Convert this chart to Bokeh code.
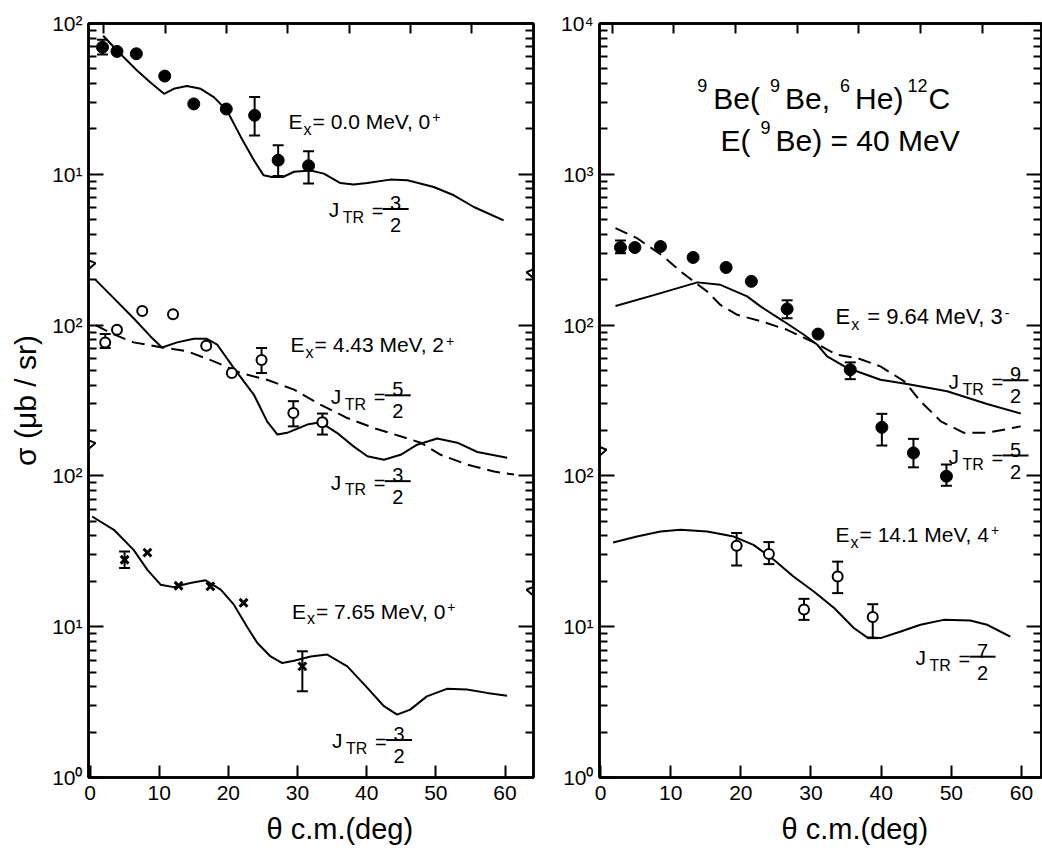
import math
from bokeh.plotting import figure
from bokeh.layouts import row
from bokeh.models import (Range1d, FixedTicker, CustomJSTickFormatter, LogAxis, LinearAxis,
                          Label, Whisker, TeeHead, ColumnDataSource, PolyAnnotation, Title)
from bokeh.embed import file_html
from bokeh.resources import INLINE

FONT = "Liberation Sans"

# Left panel, Ex = 0.0 MeV, 0+  (upper segment)
g0_theta = [1.8, 3.9, 6.7, 10.8, 15.0, 19.7, 23.8, 27.2, 31.6]
g0_sigma = [69.6, 65.3, 63.0, 44.8, 29.3, 27.1, 24.6, 12.4, 11.4]
g0_err_theta = [1.8, 23.8, 27.2, 31.6]
g0_err_lo = [62.4, 18.1, 9.75, 8.7]
g0_err_hi = [78.0, 32.5, 15.6, 14.2]
g0_fit_theta = [1.9, 3.9, 6.8, 8.7, 10.7, 12.1, 14.0, 16.0, 17.9, 19.8, 21.8, 23.7, 25.1, 26.3,
                27.9, 29.5, 31.9, 33.8, 36.2, 38.1, 40.1, 43.4, 45.9, 49.7, 52.6, 55.5, 59.8]
g0_fit_sigma = [83, 66.2, 48.8, 40.8, 34.2, 36.9, 38.5, 36.9, 32.5, 26.5, 17.7, 12.4, 9.84, 9.6,
                9.6, 10.4, 10.6, 10.1, 8.75, 8.55, 8.75, 9.22, 9.12, 8.24, 7.26, 6.07, 4.95]

# Left panel, Ex = 4.43 MeV, 2+  (middle segment)
g443_theta = [2.2, 3.9, 7.55, 12.0, 16.8, 20.5, 24.8, 29.4, 33.6]
g443_sigma = [76.8, 93.0, 124, 118, 73.0, 48.1, 58.7, 26.1, 22.7]
g443_err_theta = [2.2, 24.8, 29.4, 33.6]
g443_err_lo = [70.5, 48.1, 21.3, 18.8]
g443_err_hi = [87.2, 70.5, 31.3, 25.9]
g443_j32_theta = [0.8, 3.0, 6.3, 8.75, 10.4, 12.6, 15.0, 16.9, 18.4, 20.8, 23.7, 25.6, 27.1,
                  28.5, 31.4, 33.3, 35.7, 38.1, 40.1, 42.5, 44.9, 47.3, 50.2, 53.1, 56.0, 60.3]
g443_j32_sigma = [199.5, 158, 111, 84.1, 71.1, 76.8, 81.1, 81.1, 74.1, 51.9, 34.5, 23.0, 18.8,
                  19.3, 21.9, 22.7, 19.3, 15.7, 13.5, 12.8, 13.8, 16.1, 17.7, 16.6, 14.4, 13.2]
g443_j52_theta = [0.8, 3.0, 6.3, 10.2, 14.1, 17.9, 21.8, 25.6, 29.5, 33.3, 37.2, 41.0, 44.9,
                  47.8, 50.7, 54.5, 58.4, 61.3]
g443_j52_sigma = [100, 88.5, 76.8, 71.4, 67.0, 57.5, 48.1, 43.4, 37.3, 29.7, 24.2, 20.8, 18.3,
                  16.6, 13.8, 11.9, 10.7, 10.2]

# Left panel, Ex = 7.65 MeV, 0+  (lower segment)
g765_theta = [5.0, 8.3, 12.8, 17.4, 22.2, 30.7]
g765_sigma = [27.8, 31.0, 18.7, 18.5, 14.4, 5.46]
g765_err_theta = [5.0, 30.7]
g765_err_lo = [24.5, 3.73]
g765_err_hi = [31.5, 6.87]
g765_fit_theta = [0.3, 3.45, 6.3, 8.3, 10.2, 12.1, 14.5, 16.7, 18.9, 20.8, 22.7, 24.2, 26.1, 27.8,
                  29.5, 31.9, 34.3, 37.2, 40.1, 42.5, 44.4, 46.3, 48.7, 51.6, 54.5, 57.4, 60.3]
g765_fit_sigma = [53.8, 43.9, 32.3, 23.8, 19.0, 18.3, 19.5, 20.3, 17.6, 14.0, 10.0, 7.80, 6.35,
                  5.74, 5.95, 6.35, 6.53, 5.46, 3.93, 2.97, 2.61, 2.82, 3.45, 3.87, 3.83, 3.64, 3.49]

# Right panel, Ex = 9.64 MeV, 3-  (upper segment)
r964_theta = [2.85, 4.9, 8.55, 13.2, 17.9, 21.5, 26.6, 31.0, 35.6, 40.1, 44.6, 49.3]
r964_sigma = [327, 327, 332, 281, 241, 195, 128, 87.2, 50.6, 21.0, 14.2, 9.95]
r964_err_theta = [2.85, 26.6, 35.6, 40.1, 44.6, 49.3]
r964_err_lo = [300, 111, 43.8, 15.9, 11.4, 8.6]
r964_err_hi = [364, 146, 56.6, 25.8, 17.6, 11.9]
r964_j92_theta = [2.14, 7.6, 13.8, 17.1, 20.9, 22.8, 26.1, 29.0, 30.9, 32.3, 35.2, 39.9, 43.7,
                  49.4, 55.1, 59.9]
r964_j92_sigma = [134, 158, 192, 185, 155, 133, 106, 86.3, 74.1, 62.1, 51.9, 43.4, 40.7, 36.4,
                  30.0, 25.9]
r964_j52_theta = [2.14, 5.2, 9.0, 11.4, 15.2, 17.1, 19.5, 22.9, 26.6, 30.4, 33.7, 36.6, 39.9,
                  43.3, 45.6, 48.5, 51.8, 55.1, 59.9]
r964_j52_sigma = [439, 377, 285, 227, 167, 136, 117, 106, 93.1, 76.8, 63.6, 60.4, 53.2, 42.4,
                  31.3, 23.0, 19.3, 19.3, 21.3]

# Right panel, Ex = 14.1 MeV, 4+  (lower segment)
r141_theta = [19.4, 24.0, 29.0, 33.8, 38.8]
r141_sigma = [34.4, 30.4, 13.0, 21.5, 11.6]
r141_err_lo = [25.5, 26.0, 11.1, 16.7, 8.4]
r141_err_hi = [41.8, 36.4, 15.3, 27.0, 14.1]
r141_fit_theta = [1.8, 5.2, 8.55, 11.4, 15.2, 19.0, 21.8, 24.7, 27.5, 30.4, 33.3, 36.1, 38.0,
                  39.9, 42.8, 45.6, 48.9, 52.7, 55.1, 58.4]
r141_fit_sigma = [36.2, 39.6, 42.8, 43.9, 42.8, 39.6, 34.9, 27.8, 21.5, 17.1, 13.3, 9.8, 8.5,
                  8.4, 9.3, 10.3, 11.1, 11.0, 10.3, 8.6]

# offsets of the stacked log segments (display value = real value * factor)
LEFT_UPPER, LEFT_MID, LEFT_LOW = 1000.0, 10.0, 1.0
RIGHT_UPPER, RIGHT_LOW = 10.0, 1.0

left_tick_labels = ["10\u2070", "10\u00b9", "10\u00b2", "10\u00b2", "10\u00b9", "10\u00b2"]
right_tick_labels = ["10\u2070", "10\u00b9", "10\u00b2", "10\u00b2", "10\u00b3", "10\u2074"]
x_ticks = [0, 10, 20, 30, 40, 50, 60]

MAJOR = [10.0 ** k for k in range(6)]
MINOR = [m * 10.0 ** k for k in range(5) for m in range(2, 10)]

# ---------------- layout ----------------
W1, W2, H = 545, 497, 852
TOP, BOTTOM = 23, 74
YMIN, YMAX = 1.0, 1e5
DESC = 0.21  # descent of the font, in em (labels are anchored at the bottom of their box)

ADV = {' ': .278, '.': .278, ',': .278, '=': .584, '+': .584, '-': .333, '(': .333, ')': .333,
       'E': .667, 'M': .833, 'e': .556, 'V': .667, 'x': .5, 'J': .5, 'T': .611, 'R': .722,
       'B': .667, 'H': .722, 'C': .722}


def tw(s, size):
    return sum(ADV.get(c, .556) for c in s) * size


class Geo:
    pass


def style_axis(ax, tick_in, minor_in, label_size, standoff, show_labels=True):
    ax.axis_line_color = "black"
    ax.axis_line_width = 2.5
    ax.major_tick_line_color = "black"
    ax.major_tick_line_width = 2
    ax.minor_tick_line_color = "black"
    ax.minor_tick_line_width = 2
    ax.major_tick_in = tick_in
    ax.major_tick_out = 0
    ax.minor_tick_in = minor_in
    ax.minor_tick_out = 0
    ax.major_label_text_font = FONT
    ax.major_label_text_font_size = label_size
    ax.major_label_text_color = "black" if show_labels else None
    ax.major_label_standoff = standoff


def make_panel(width, bl, br, x_start, x_end, top_start, top_end, labels, xlab_offset):
    p = figure(width=width, height=H, x_range=Range1d(x_start, x_end),
               y_range=Range1d(YMIN, YMAX), y_axis_type="log",
               output_backend="svg", toolbar_location=None,
               min_border_left=bl, min_border_right=br,
               min_border_top=TOP, min_border_bottom=BOTTOM,
               background_fill_color="white", border_fill_color="white",
               outline_line_color="black", outline_line_width=2.5)
    p.grid.visible = False
    p.extra_x_ranges = {"top": Range1d(top_start, top_end)}

    fmt = CustomJSTickFormatter(args=dict(labels=labels),
                                code="const i = Math.round(Math.log10(tick)); return labels[i] ?? '';")
    yl = p.left[0]
    yl.ticker = FixedTicker(ticks=MAJOR, minor_ticks=MINOR)
    yl.formatter = fmt
    style_axis(yl, 15, 8, "21px", 6)

    blank = CustomJSTickFormatter(code="return '';")
    yr = LogAxis(ticker=FixedTicker(ticks=MAJOR, minor_ticks=MINOR), formatter=blank)
    style_axis(yr, 15, 8, "21px", 0, show_labels=False)
    p.add_layout(yr, "right")

    xb = p.below[0]
    xb.ticker = FixedTicker(ticks=x_ticks)
    style_axis(xb, 12, 0, "21px", 8)

    xt = LinearAxis(x_range_name="top", ticker=FixedTicker(ticks=x_ticks), formatter=blank)
    style_axis(xt, 10, 0, "21px", 0, show_labels=False)
    p.add_layout(xt, "above")

    # x-axis title, placed off-centre as in the original figure
    p.add_layout(Title(text="\u03b8 c.m.(deg)", align="left", offset=xlab_offset,
                       text_font=FONT, text_font_size="29px", text_font_style="normal",
                       text_color="black", standoff=16), "below")

    g = Geo()
    g.x_start, g.x_end = x_start, x_end
    g.ppx = (width - bl - br) / (x_end - x_start)
    g.ppd = (H - TOP - BOTTOM) / math.log10(YMAX / YMIN)
    return p, g


def txt(p, x, y, s, size, dx=0.0, dy=0.0, align="left", units="data"):
    # dy is the offset of the text baseline (pixels, upward)
    p.add_layout(Label(x=x, y=y, x_units=units, y_units=units, x_offset=dx,
                       y_offset=dy - DESC * size,
                       text=s, text_font=FONT, text_font_size=f"{size}px",
                       text_align=align, text_baseline="bottom", text_color="black"))


def rich(p, x, y, parts):
    dx = 0.0
    for part in parts:
        if isinstance(part, (int, float)):
            dx += part
            continue
        s, size, dy = part
        txt(p, x, y, s, size, dx=dx, dy=dy)
        dx += tw(s, size)


def ex_label(p, x, y, main, sup, F=21, gap=1):
    rich(p, x, y, [("E", F, 0), 1, ("x", 16, -6), gap, (main, F, 0), 0, (sup, 14, 9)])


def jtr_label(p, g, x, y, num, den):
    txt(p, x, y, "J", 21)
    txt(p, x, y, "TR", 16, dx=14, dy=-6)
    txt(p, x, y, "=", 20, dx=43, dy=-1)
    yb = y * 10 ** (8 / g.ppd)
    p.segment(x0=[x + 54 / g.ppx], y0=[yb], x1=[x + 80 / g.ppx], y1=[yb],
              line_color="black", line_width=2)
    txt(p, x, y, num, 20, dx=67, dy=11, align="center")
    txt(p, x, y, den, 20, dx=67, dy=-11, align="center")


def axis_break(p, g, side, yv):
    # zigzag on the axis line (outward part is clipped by the frame)
    shape = [(0, -9), (5, -5), (-7, 0), (0, 6)]
    pts = shape + shape[-2:0:-1]
    xa = g.x_start if side == "left" else g.x_end
    sgn = -1 if side == "left" else 1
    xs = [xa + sgn * dx / g.ppx for dx, dy in pts]
    ys = [yv * 10 ** (-dy / g.ppd) for dx, dy in pts]
    p.add_layout(PolyAnnotation(xs=xs, ys=ys, fill_alpha=0, line_color="black",
                                line_alpha=1, line_width=2))


def errors(p, th, lo, hi, factor):
    src = ColumnDataSource(dict(x=th, lo=[v * factor for v in lo], hi=[v * factor for v in hi]))
    p.add_layout(Whisker(source=src, base="x", lower="lo", upper="hi", dimension="height",
                         line_color="black", line_width=2,
                         lower_head=TeeHead(size=11, line_width=2, line_color="black"),
                         upper_head=TeeHead(size=11, line_width=2, line_color="black")))


def curve(p, th, sg, factor, dash="solid"):
    p.line(th, [v * factor for v in sg], line_color="black", line_width=2, line_dash=dash)


def points(p, th, sg, factor, kind):
    ys = [v * factor for v in sg]
    if kind == "filled":
        p.scatter(th, ys, marker="circle", size=12, fill_color="black", line_color="black")
    elif kind == "open":
        p.scatter(th, ys, marker="circle", size=10, fill_color="white", line_color="black",
                  line_width=2)
    else:
        p.scatter(th, ys, marker="x", size=11, line_color="black", line_width=3)


DASH = "13 7"

# ---------------- left panel ----------------
p1, g1 = make_panel(W1, 88, 12, -0.22, 64.12, -2.50, 70.10, left_tick_labels, 178)
p1.left[0].axis_label = "\u03c3 (\u03bcb / sr)"
p1.left[0].axis_label_text_font = FONT
p1.left[0].axis_label_text_font_size = "30px"
p1.left[0].axis_label_text_font_style = "normal"
p1.left[0].axis_label_text_color = "black"
p1.left[0].axis_label_standoff = 7

curve(p1, g0_fit_theta, g0_fit_sigma, LEFT_UPPER)
errors(p1, g0_err_theta, g0_err_lo, g0_err_hi, LEFT_UPPER)
points(p1, g0_theta, g0_sigma, LEFT_UPPER, "filled")

curve(p1, g443_j32_theta, g443_j32_sigma, LEFT_MID)
curve(p1, g443_j52_theta, g443_j52_sigma, LEFT_MID, DASH)
errors(p1, g443_err_theta, g443_err_lo, g443_err_hi, LEFT_MID)
points(p1, g443_theta, g443_sigma, LEFT_MID, "open")

curve(p1, g765_fit_theta, g765_fit_sigma, LEFT_LOW)
errors(p1, g765_err_theta, g765_err_lo, g765_err_hi, LEFT_LOW)
points(p1, g765_theta, g765_sigma, LEFT_LOW, "x")

ex_label(p1, 28.7, 20.2 * LEFT_UPPER, "= 0.0 MeV, 0", "+")
jtr_label(p1, g1, 34.5, 5.21 * LEFT_UPPER, "3", "2")
ex_label(p1, 29.0, 66.6 * LEFT_MID, "= 4.43 MeV, 2", "+")
jtr_label(p1, g1, 34.8, 30.3 * LEFT_MID, "5", "2")
jtr_label(p1, g1, 34.8, 8.17 * LEFT_MID, "3", "2")
ex_label(p1, 29.2, 11.4 * LEFT_LOW, "= 7.65 MeV, 0", "+")
jtr_label(p1, g1, 35.0, 1.57 * LEFT_LOW, "3", "2")

axis_break(p1, g1, "left", 2575)
axis_break(p1, g1, "left", 165)
axis_break(p1, g1, "right", 2244)
axis_break(p1, g1, "right", 17.6)

# ---------------- right panel ----------------
p2, g2 = make_panel(W2, 54, 1, -0.14, 62.85, -2.06, 69.58, right_tick_labels, 182)

curve(p2, r964_j92_theta, r964_j92_sigma, RIGHT_UPPER)
curve(p2, r964_j52_theta, r964_j52_sigma, RIGHT_UPPER, DASH)
errors(p2, r964_err_theta, r964_err_lo, r964_err_hi, RIGHT_UPPER)
points(p2, r964_theta, r964_sigma, RIGHT_UPPER, "filled")

curve(p2, r141_fit_theta, r141_fit_sigma, RIGHT_LOW)
errors(p2, r141_theta, r141_err_lo, r141_err_hi, RIGHT_LOW)
points(p2, r141_theta, r141_sigma, RIGHT_LOW, "open")

rich(p2, 13.8, 27350, [("9", 18, 20), 6, ("Be(", 30, 0), 10, ("9", 18, 20), 5, ("Be,", 30, 0),
                       10, ("6", 18, 20), 5, ("He)", 30, 0), 4, ("12", 18, 20), 1, ("C", 30, 0)])
rich(p2, 17.1, 14420, [("E(", 30, 0), 10, ("9", 18, 20), 5, ("Be) = 40 MeV", 30, 0)])

ex_label(p2, 33.5, 101.6 * RIGHT_UPPER, "= 9.64 MeV, 3", "-", F=22, gap=8)
jtr_label(p2, g2, 49.6, 38.1 * RIGHT_UPPER, "9", "2")
jtr_label(p2, g2, 49.6, 12.1 * RIGHT_UPPER, "5", "2")
ex_label(p2, 33.5, 36.7 * RIGHT_LOW, "= 14.1 MeV, 4", "+")
jtr_label(p2, g2, 44.9, 5.6 * RIGHT_LOW, "7", "2")

axis_break(p2, g2, "left", 149)

layout = row(p1, p2)
open("out.html", "w").write(file_html(layout, INLINE))
